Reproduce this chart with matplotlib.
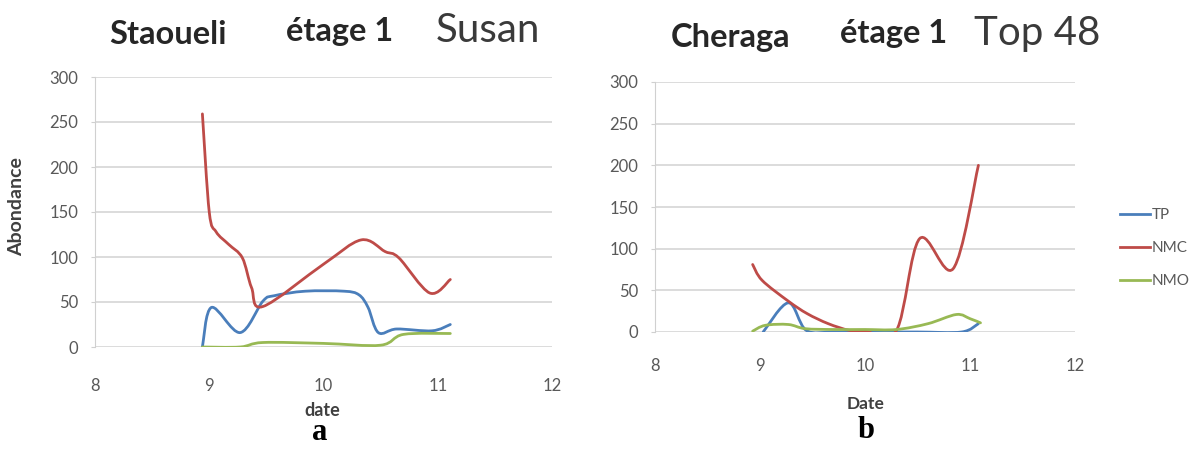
import numpy as np
import matplotlib.pyplot as plt
from matplotlib.path import Path
from matplotlib.patches import PathPatch
from matplotlib.lines import Line2D

# --- panel a : Staoueli ---
tp_a_x = [8.94, 9.02, 9.27, 9.47, 9.57, 9.84, 10.18, 10.31, 10.39, 10.48, 10.64, 10.95, 11.11]
tp_a_y = [0, 44, 16, 51, 57, 62, 62, 58, 44, 16, 20, 18, 25]
nmc_a_x = [8.94, 9.0, 9.06, 9.17, 9.29, 9.37, 9.47, 10.0, 10.33, 10.54, 10.66, 10.93, 11.11]
nmc_a_y = [259, 150, 128, 114, 99, 66, 45, 92, 119, 106, 99, 60, 75]
nmo_a_x = [8.94, 9.27, 9.47, 10.0, 10.5, 10.7, 11.11]
nmo_a_y = [0, 0, 5, 4, 2, 14, 15]

# --- panel b : Cheraga ---
tp_b_x = [9.03, 9.27, 9.44, 9.7, 10.0, 10.5, 10.92, 11.08]
tp_b_y = [0, 35, 2, 0, 0, 0, 0, 10]
nmc_b_x = [8.93, 9.02, 9.27, 9.45, 9.65, 9.85, 10.0, 10.30, 10.52, 10.84, 11.08]
nmc_b_y = [81, 62, 37, 22, 10, 2, 1, 2, 112, 76, 200]
nmo_b_x = [8.93, 9.05, 9.27, 9.43, 9.7, 10.0, 10.3, 10.6, 10.87, 11.0, 11.1]
nmo_b_y = [1, 8, 9, 4, 3, 3, 3, 10, 21, 16, 11]

series_names = ['TP', 'NMC', 'NMO']
colors = ['#4a7ebb', '#be4b48', '#98b954']
yticks = [0, 50, 100, 150, 200, 250, 300]
xticks = [8, 9, 10, 11, 12]

W, H = 1193, 449
fig = plt.figure(figsize=(W / 100, H / 100), dpi=100)


def smooth_path(x, y):
    # bezier segments like Excel's "smoothed line"
    p = np.column_stack([x, y]).astype(float)
    ext = np.vstack([p[0], p, p[-1]])
    verts = [p[0]]
    codes = [Path.MOVETO]
    for i in range(len(p) - 1):
        p0, p1, p2, p3 = ext[i], ext[i + 1], ext[i + 2], ext[i + 3]
        c1 = p1 + (p2 - p0) / 6
        c2 = p2 - (p3 - p1) / 6
        verts += [c1, c2, p2]
        codes += [Path.CURVE4] * 3
    return Path(verts, codes)


def setup(ax, xpad):
    ax.set_xlim(8, 12)
    ax.set_ylim(0, 300)
    ax.set_xticks(xticks)
    ax.set_yticks(yticks)
    ax.grid(axis='y', color='#d9d9d9', lw=1.3)
    ax.set_axisbelow(True)
    for s in ['top', 'right', 'bottom']:
        ax.spines[s].set_visible(False)
    ax.spines['left'].set_color('#d0d0d0')
    ax.tick_params(axis='y', length=3, color='#d0d0d0', pad=9,
                   labelsize=12, labelcolor='#595959')
    ax.tick_params(axis='x', length=0, pad=xpad, labelsize=12, labelcolor='#595959')
    for lab in ax.get_xticklabels() + ax.get_yticklabels():
        lab.set_family('Lato')


def draw(ax, data):
    for (x, y), c in zip(data, colors):
        ax.add_patch(PathPatch(smooth_path(x, y), fill=False, edgecolor=c, lw=2.0,
                               capstyle='round', joinstyle='round'))


ax1 = fig.add_axes([95 / W, 1 - 347 / H, 457 / W, 270 / H])
setup(ax1, 22)
draw(ax1, [(tp_a_x, tp_a_y), (nmc_a_x, nmc_a_y), (nmo_a_x, nmo_a_y)])

ax2 = fig.add_axes([655 / W, 1 - 332 / H, 420 / W, 250 / H])
setup(ax2, 19)
draw(ax2, [(tp_b_x, tp_b_y), (nmc_b_x, nmc_b_y), (nmo_b_x, nmo_b_y)])

handles = [Line2D([], [], color=c, lw=2.0) for c in colors]
fig.legend(handles, series_names, loc='center left', bbox_to_anchor=(1106 / W, 1 - 248 / H),
           frameon=False, handlelength=2.0, handletextpad=0.1, labelspacing=1.25,
           prop={'family': 'Lato', 'size': 11}, labelcolor='#595959')

# titles
tkw = dict(va='center', ha='left', color='#262626', family='Lato', fontsize=23.5, fontweight='bold')
skw = dict(va='center', ha='left', color='#3a3a3a', family='Lato', fontsize=29)
fig.text(109 / W, 1 - 34 / H, 'Staoueli', **tkw)
fig.text(286 / W, 1 - 32 / H, 'étage 1', **tkw)
fig.text(436 / W, 1 - 31 / H, 'Susan', **skw)
fig.text(671 / W, 1 - 38 / H, 'Cheraga', **tkw)
fig.text(840 / W, 1 - 34 / H, 'étage 1', **tkw)
fig.text(974 / W, 1 - 33 / H, 'Top 48', **skw)

# axis labels
lkw = dict(ha='center', va='center', color='#404040', family='Lato', fontweight='bold')
fig.text(17 / W, 1 - 207 / H, 'Abondance', rotation=90, fontsize=14, **lkw)
fig.text(322 / W, 1 - 411 / H, 'date', fontsize=13, **lkw)
fig.text(866 / W, 1 - 404 / H, 'Date', fontsize=12.5, **lkw)

# panel letters
pkw = dict(ha='center', va='bottom', color='black', family='Liberation Serif',
           fontsize=22, fontweight='bold')
fig.text(320 / W, 1.5 / H, 'a', **pkw)
fig.text(866 / W, 4 / H, 'b', **pkw)

fig.savefig('out.png', dpi=100)
